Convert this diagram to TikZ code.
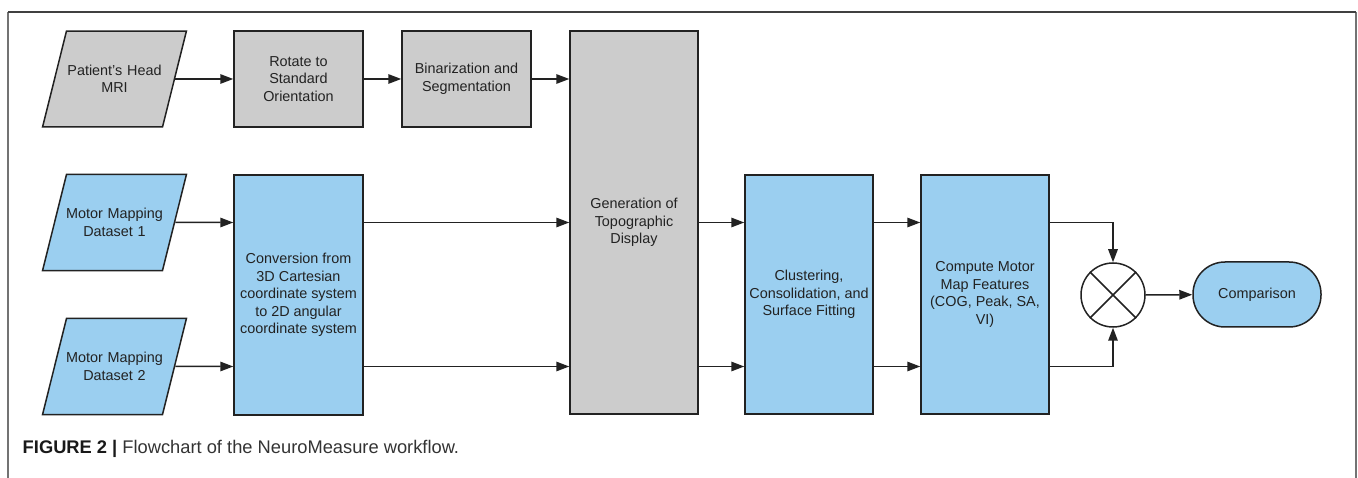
\documentclass[tikz,border=0pt]{standalone}
\usepackage{fontspec}
\setmainfont{Liberation Sans}
\usetikzlibrary{shapes.geometric,arrows.meta}

\definecolor{boxblue}{RGB}{155,207,240}
\definecolor{boxgray}{RGB}{204,204,204}
\definecolor{inkgray}{RGB}{34,34,34}

\tikzset{
  flow/.style={
    every node/.style={draw=inkgray,line width=1.5pt,align=center,text=inkgray,
        font=\fontsize{14.4}{17.5}\selectfont,inner sep=2pt},
    data/.style={
        shape=trapezium,
        trapezium left angle=76,
        trapezium right angle=104,
        text width=100pt,
        inner xsep=-2pt,
        inner ysep=34pt,
    },
    block/.style={
        shape=rectangle,
        minimum width=129pt,
    },
    link/.style={-{Triangle[length=13pt,width=9.5pt]},line width=1.5pt,draw=inkgray},
  }
}

\begin{document}
\begin{tikzpicture}[x=1pt, y=-1pt, flow]
            \useasboundingbox (0,0) rectangle (1358,478);
            % frame
            \draw[black!55,line width=2.5pt] (8,478) -- (8,12);
            \draw[black!55,line width=2.5pt] (1356,12) -- (1356,478);
            \draw[black!75,line width=1.5pt] (8,12) -- (1356,12);

            \node[data,fill=boxgray] (mri) at (114.5,79) {Patient's Head\\MRI};
            \node[data,fill=boxblue] (ds1) at (114.5,222.5) {Motor Mapping\\Dataset 1};
            \node[data,fill=boxblue] (ds2) at (114.5,366.5) {Motor Mapping\\Dataset 2};
            \node[block,fill=boxgray,minimum height=96pt] (rot) at (298.5,79) {Rotate to\\Standard\\Orientation};
            \node[block,fill=boxgray,minimum height=96pt] (bin) at (466.5,79) {Binarization and\\Segmentation};
            \node[block,fill=boxblue,minimum height=240pt] (conv) at (298.5,295) {Conversion from\\3D Cartesian\\coordinate system\\to 2D angular\\coordinate system};
            \node[block,fill=boxgray,minimum width=128pt,minimum height=383pt] (gen) at (634,222.5) {Generation of\\Topographic\\Display};
            \node[block,fill=boxblue,minimum width=128pt,minimum height=239pt] (clu) at (809,294.5) {Clustering,\\Consolidation, and\\Surface Fitting};
            \node[block,fill=boxblue,minimum width=128pt,minimum height=239pt] (feat) at (985,294.5) {Compute Motor\\Map Features\\(COG, Peak, SA,\\VI)};
            \node[circle,fill=white,minimum size=64pt,inner sep=0pt] (sum) at (1113,295) {};
            \node[block,fill=boxblue,rounded corners=32pt,minimum width=128pt,minimum height=65pt] (cmp) at (1257,294.5) {Comparison};

            \draw[line width=1.5pt,draw=inkgray] (sum.45) -- (sum.225) (sum.135) -- (sum.-45);

            \draw[link] (mri) -- (rot);
            \draw[link] (rot) -- (bin);
            \draw[link] (bin) -- (bin -| gen.west);
            \draw[link] (ds1) -- (ds1 -| conv.west);
            \draw[link] (ds2) -- (ds2 -| conv.west);
            \draw[link] (conv.east |- ds1) -- (gen.west |- ds1);
            \draw[link] (conv.east |- ds2) -- (gen.west |- ds2);
            \draw[link] (gen.east |- ds1) -- (clu.west |- ds1);
            \draw[link] (gen.east |- ds2) -- (clu.west |- ds2);
            \draw[link] (clu.east |- ds1) -- (feat.west |- ds1);
            \draw[link] (clu.east |- ds2) -- (feat.west |- ds2);
            \draw[link] (feat.east |- ds1) -| (sum.north);
            \draw[link] (feat.east |- ds2) -| (sum.south);
            \draw[link] (sum) -- (cmp);

            \node[draw=none,anchor=west,inner sep=0pt,text=black!80,font=\fontsize{18.3}{21}\selectfont] (cap) at (22,449)
                {\textcolor{black!90}{\textbf{FIGURE 2 |}} Flowchart of the NeuroMeasure workflow.};
        \end{tikzpicture}
\end{document}
